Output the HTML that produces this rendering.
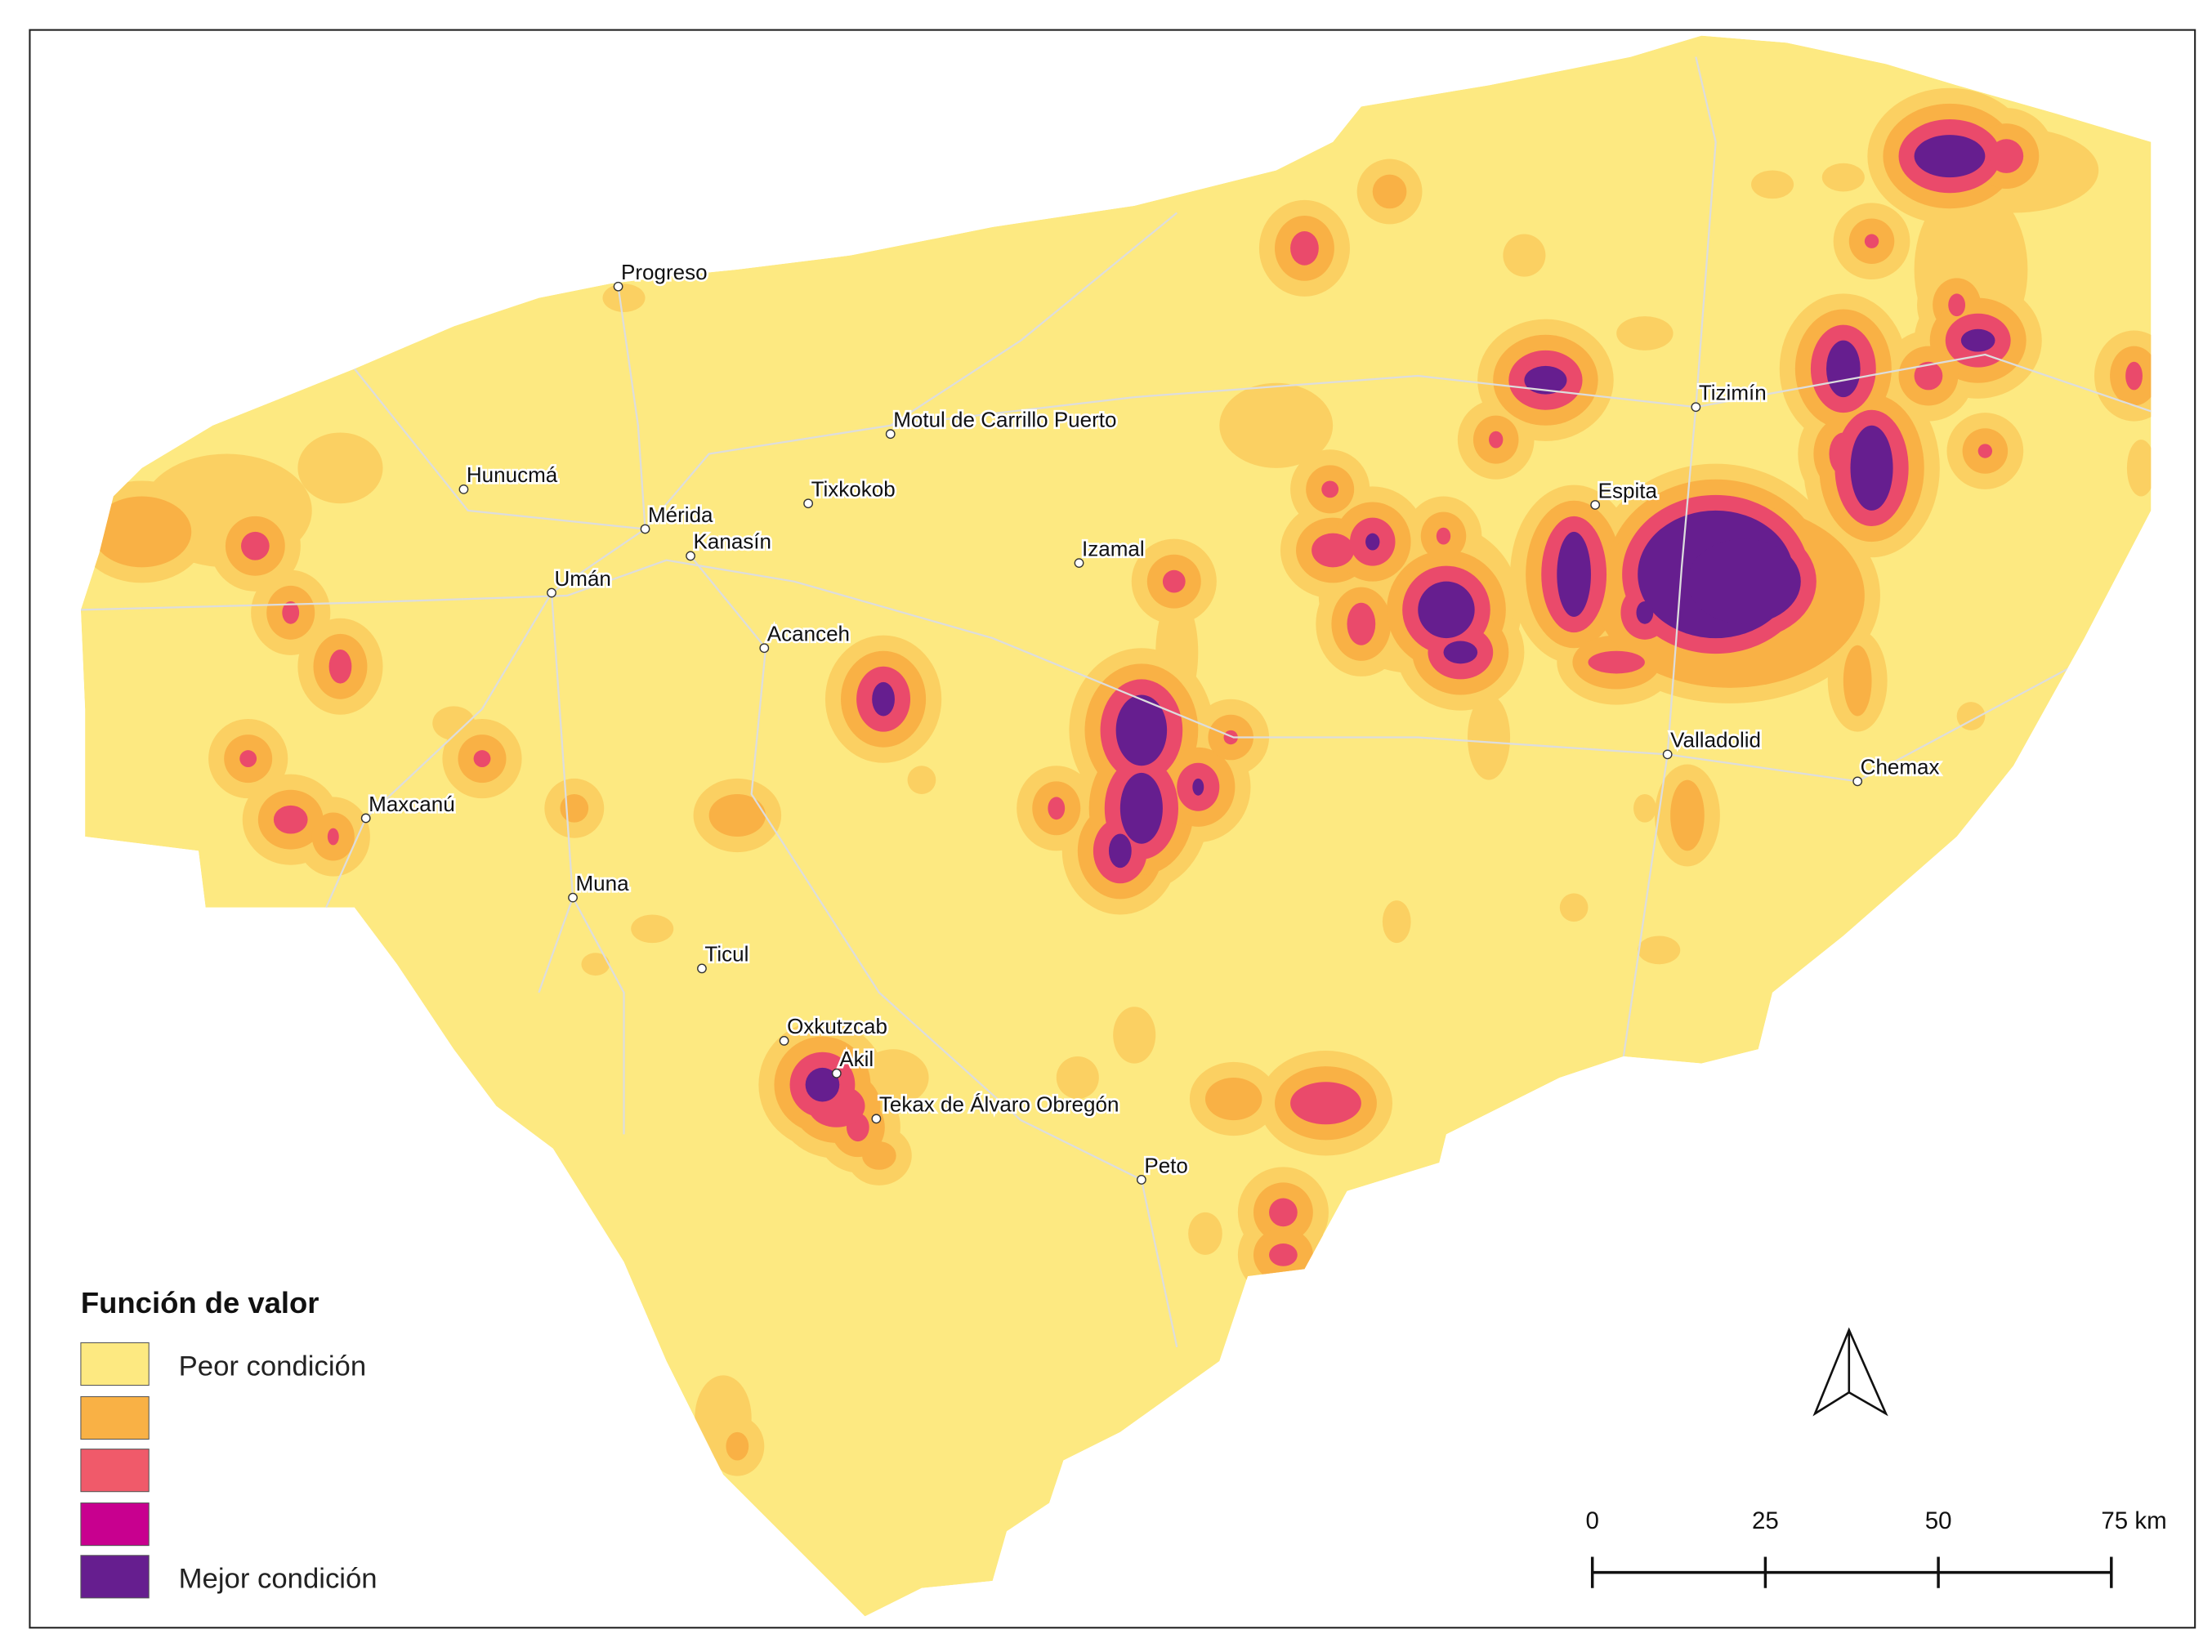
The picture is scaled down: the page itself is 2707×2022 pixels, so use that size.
<!DOCTYPE html>
<html><head><meta charset="utf-8"><style>
html,body{margin:0;padding:0;background:#fff}
svg{display:block}
text{font-family:"Liberation Sans",sans-serif}
</style></head><body>
<svg id="map" width="2707" height="2022" viewBox="0 0 1560 1165" xmlns="http://www.w3.org/2000/svg">
<rect x="21" y="21" width="1527" height="1127" fill="#fff" stroke="#222" stroke-width="1.2"/>
<defs><clipPath id="clip"><path d="M57,430 L70,390 L80,350 L100,330 L150,300 L200,280 L250,260 L320,230 L380,210 L430,200 L470,195 L520,190 L600,180 L700,160 L800,145 L900,120 L940,100 L960,75 L1050,60 L1150,40 L1200,25 L1260,30 L1330,45 L1380,60 L1450,80 L1517,100 L1517,360 L1470,450 L1420,540 L1380,590 L1300,660 L1250,700 L1240,740 L1200,750 L1145,745 L1100,760 L1020,800 L1015,820 L950,840 L920,895 L880,900 L860,960 L790,1010 L750,1030 L740,1060 L710,1080 L700,1115 L650,1120 L610,1140 L560,1090 L510,1040 L470,960 L440,890 L390,810 L350,780 L320,740 L280,680 L250,640 L145,640 L140,600 L60,590 L60,500 Z"/></clipPath></defs>
<g clip-path="url(#clip)">
<path d="M57,430 L70,390 L80,350 L100,330 L150,300 L200,280 L250,260 L320,230 L380,210 L430,200 L470,195 L520,190 L600,180 L700,160 L800,145 L900,120 L940,100 L960,75 L1050,60 L1150,40 L1200,25 L1260,30 L1330,45 L1380,60 L1450,80 L1517,100 L1517,360 L1470,450 L1420,540 L1380,590 L1300,660 L1250,700 L1240,740 L1200,750 L1145,745 L1100,760 L1020,800 L1015,820 L950,840 L920,895 L880,900 L860,960 L790,1010 L750,1030 L740,1060 L710,1080 L700,1115 L650,1120 L610,1140 L560,1090 L510,1040 L470,960 L440,890 L390,810 L350,780 L320,740 L280,680 L250,640 L145,640 L140,600 L60,590 L60,500 Z" fill="#fde981"/>
<g id="blobs"></g>
<g id="roads" fill="none" stroke="#ddd" stroke-width="1.3"></g>
</g>
<g id="cities"></g>
<g>
<text x="57" y="926" font-size="21" font-weight="bold" fill="#111">Función de valor</text>
<rect x="57" y="947" width="48" height="30" fill="#fde981" stroke="#555" stroke-width="0.6"/>
<rect x="57" y="985" width="48" height="30" fill="#f9b145" stroke="#555" stroke-width="0.6"/>
<rect x="57" y="1022" width="48" height="30" fill="#f05a6a" stroke="#555" stroke-width="0.6"/>
<rect x="57" y="1060" width="48" height="30" fill="#c8008f" stroke="#555" stroke-width="0.6"/>
<rect x="57" y="1097" width="48" height="30" fill="#661e8f" stroke="#555" stroke-width="0.6"/>
<text x="126" y="970" font-size="20" fill="#222">Peor condición</text>
<text x="126" y="1120" font-size="20" fill="#222">Mejor condición</text>
</g>
<g fill="none" stroke="#111" stroke-width="1.5">
<path d="M1304,938 L1280,997 L1304,982 L1330,997 Z"/><path d="M1304,938 L1304,982"/>
</g>
<g font-size="17" fill="#111">
<path d="M1123,1109 H1489 M1123,1098 V1120 M1245,1098 V1120 M1367,1098 V1120 M1489,1098 V1120" stroke="#111" stroke-width="2"/>
<text x="1123" y="1078" text-anchor="middle">0</text>
<text x="1245" y="1078" text-anchor="middle">25</text>
<text x="1367" y="1078" text-anchor="middle">50</text>
<text x="1505" y="1078" text-anchor="middle">75 km</text>
</g>
</svg>
<script>
// city data
const cityNames=["Progreso","Hunucmá","Mérida","Tixkokob","Motul de Carrillo Puerto","Kanasín","Umán","Izamal","Acanceh","Maxcanú","Muna","Ticul","Oxkutzcab","Akil","Tekax de Álvaro Obregón","Peto","Valladolid","Chemax","Espita","Tizimín"];
const cityX=[436,327,455,570,628,487,389,761,539,258,404,495,553,590,618,805,1176,1310,1125,1196];
const cityY=[202,345,373,355,306,392,418,397,457,577,633,683,734,757,789,832,532,551,356,287];
// suitability patches: core centre/size and peak level (1=light orange,2=orange,3=pink,4=purple)
const blobX=[100,180,205,240,175,205,235,340,320,440,520,623,650,405,460,420,828,830,805,790,805,845,745,868,920,980,938,940,968,960,1020,1030,1018,1055,1110,1210,1160,1140,1090,1080,1300,1320,1300,1375,1415,1320,1380,1395,1360,1400,1505,1510,1075,1300,1250,1160,1310,1390,1190,1160,1170,1110,1050,985,580,605,590,630,620,870,935,905,905,760,800,850,510,520,1230,160,240,1000,1220,1390,1420,900];
const blobY=[375,385,432,470,535,578,590,535,510,210,575,493,550,570,655,680,410,460,515,600,570,555,570,520,175,135,345,388,382,440,430,460,378,310,405,405,432,467,268,265,260,330,320,110,110,170,215,240,265,318,265,330,180,125,130,235,480,505,575,570,670,640,520,650,765,795,780,760,815,775,778,855,885,760,730,870,1000,1020,410,360,330,420,420,190,120,300];
const blobRX=[35,10,6,8,6,12,4,6,15,15,20,8,10,10,15,10,8,15,18,8,15,4,6,5,10,12,6,15,5,10,20,12,5,5,12,55,6,20,15,8,12,15,10,25,12,5,6,12,10,5,6,10,15,15,15,20,10,10,12,8,15,10,15,10,12,8,20,25,12,20,25,10,10,15,15,12,20,8,40,60,30,70,95,40,60,40];
const blobRY=[25,10,8,12,6,10,6,6,12,10,15,12,10,10,10,8,8,40,25,12,25,6,8,5,12,12,6,12,6,15,20,8,6,6,30,45,8,8,10,8,20,30,15,15,12,5,8,8,10,5,10,20,15,10,10,12,25,10,25,10,10,10,30,15,12,10,15,20,10,15,15,10,8,15,20,15,30,10,30,40,25,55,65,60,30,30];
const blobLv=[2,3,3,3,3,3,3,3,1,1,2,4,1,2,1,1,3,1,4,4,4,4,3,3,3,2,3,3,4,3,4,4,3,3,4,4,4,3,4,3,4,4,3,4,3,3,3,4,3,3,3,1,1,1,1,1,2,1,2,1,1,1,1,1,4,3,3,1,2,2,3,3,3,1,1,1,1,2,4,1,1,1,2,1,1,1];
const lvColor=["#fde981","#fbd062","#f9b145","#ea4a6b","#661e8f"];
const ns="http://www.w3.org/2000/svg";
const bg=document.getElementById('blobs');
for(let lv=1;lv<=4;lv++){
  for(let i=0;i<blobX.length;i++){
    if(blobLv[i]<lv)continue;
    const pad=(blobLv[i]-lv)*11;
    const e=document.createElementNS(ns,'ellipse');
    
    
    e.setAttribute('cx',blobX[i]);e.setAttribute('cy',blobY[i]);
    e.setAttribute('rx',blobRX[i]+pad);
    e.setAttribute('ry',blobRY[i]+pad);
    e.setAttribute('fill',lvColor[lv]);
    bg.appendChild(e);
  }
}
const roadPaths=["M57,430 L250,425 L400,420 L470,395 L560,410 L700,450 L870,520 L1000,520 L1176,532 L1310,551 L1480,460","M436,202 L450,300 L455,373 L430,390 L389,418 L340,500 L258,577 L230,640","M455,373 L330,360 L250,260","M455,373 L500,320 L628,300 L800,280 L1000,265 L1196,287 L1400,250 L1517,290","M389,418 L404,633 L380,700","M487,392 L540,457 L530,560 L620,700 L720,790 L805,832 L830,950","M1196,40 L1210,100 L1196,287 L1186,400 L1176,532 L1145,745","M404,633 L440,700 L440,800","M628,300 L720,240 L830,150"];
const rg=document.getElementById('roads');
roadPaths.forEach(d=>{const p=document.createElementNS(ns,'path');


p.setAttribute('d',d);rg.appendChild(p);});
const cg=document.getElementById('cities');
for(let i=0;i<cityNames.length;i++){
  const c=document.createElementNS(ns,'circle');
  
  
  c.setAttribute('cx',cityX[i]);c.setAttribute('cy',cityY[i]);c.setAttribute('r',3);
  c.setAttribute('fill','#fff');c.setAttribute('stroke','#333');c.setAttribute('stroke-width','0.8');
  cg.appendChild(c);
  const t=document.createElementNS(ns,'text');
  
  
  t.setAttribute('x',cityX[i]+2);t.setAttribute('y',cityY[i]-5);
  t.setAttribute('font-size','15');t.setAttribute('fill','#111');
  t.setAttribute('stroke','#fff');t.setAttribute('stroke-width','3');t.setAttribute('paint-order','stroke');
  t.textContent=cityNames[i];cg.appendChild(t);
}
</script>
</body></html>
